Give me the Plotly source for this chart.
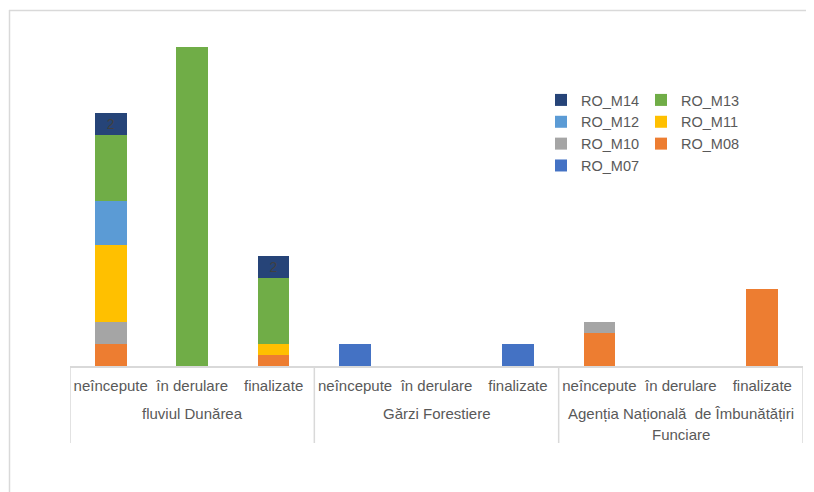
import plotly.graph_objects as go

groups = ["fluviul Dunărea", "Gărzi Forestiere", "Agenția Națională  de Îmbunătățiri", "Funciare"]
stages = ["neîncepute", "în derulare", "finalizate"] * 3

RO_M07 = [None, None, None, 2, None, 2, None, None, None]
RO_M08 = [2, None, 1, None, None, None, 3, None, 7]
RO_M10 = [2, None, None, None, None, None, 1, None, None]
RO_M11 = [7, None, 1, None, None, None, None, None, None]
RO_M12 = [4, None, None, None, None, None, None, None, None]
RO_M13 = [6, 29, 6, None, None, None, None, None, None]
RO_M14 = [2, None, 2, None, None, None, None, None, None]

series = [
    ("RO_M07", RO_M07, "#4472C4", "legend"),
    ("RO_M08", RO_M08, "#ED7D31", "legend2"),
    ("RO_M10", RO_M10, "#A5A5A5", "legend"),
    ("RO_M11", RO_M11, "#FFC000", "legend2"),
    ("RO_M12", RO_M12, "#5B9BD5", "legend"),
    ("RO_M13", RO_M13, "#70AD47", "legend2"),
    ("RO_M14", RO_M14, "#264478", "legend"),
]

OFF = 8  # page offset of the figure in the window
W, H = 806, 484
L, R, T, B = 62, 11, 28, 126
pw, ph = W - L - R, H - T - B

def px_x(sx):
    return (sx - OFF - L) / pw

def px_y(sy):
    return (H - B - (sy - OFF)) / ph

xs = list(range(len(stages)))
n_per = 3

fig = go.Figure()
for name, vals, color, lg in series:
    kw = {}
    if name == "RO_M14":
        kw = dict(text=[v if v else None for v in vals], textposition="inside",
                  insidetextanchor="middle",
                  textfont=dict(color="#404040", size=14, family="Liberation Sans, Arial, sans-serif"))
    fig.add_trace(go.Bar(name=name, x=xs, y=vals, marker=dict(color=color, line_width=0),
                         legend=lg, hoverinfo="skip", **kw))

font_axis = dict(family="Liberation Sans, Arial, sans-serif", size=15, color="#595959")
leg_font = dict(family="Liberation Sans, Arial, sans-serif", size=14.5, color="#595959")

line_col = "#d9d9d9"
shapes = [
    dict(type="line", xref="paper", yref="paper", x0=px_x(9), x1=px_x(830), y0=px_y(10.5), y1=px_y(10.5),
         line=dict(color=line_col, width=1.5)),
    dict(type="line", xref="paper", yref="paper", x0=px_x(9.5), x1=px_x(9.5), y0=px_y(10), y1=px_y(510),
         line=dict(color=line_col, width=1.5)),
]
for g in range(4):
    xv = g * n_per - 0.5
    shapes.append(dict(type="line", xref="x", yref="paper", x0=xv, x1=xv, y0=0, y1=px_y(443),
                       line=dict(color=line_col, width=1.5)))

annotations = []
group_pos = [(1, groups[0], 413), (4, groups[1], 413), (7, groups[2], 413), (7, groups[3], 435)]
for xc, txt, sy in group_pos:
    annotations.append(dict(x=xc, xref="x", y=px_y(sy), yref="paper", text=txt, showarrow=False,
                            xanchor="center", yanchor="middle", font=font_axis))

fig.update_layout(
    width=W, height=H,
    margin=dict(l=L, r=R, t=T, b=B),
    barmode="stack", bargap=0.61,
    plot_bgcolor="white", paper_bgcolor="white",
    xaxis=dict(range=[-0.5, len(stages) - 0.5], tickmode="array", tickvals=xs, ticktext=stages,
               showline=True, linecolor=line_col, linewidth=1.5,
               tickfont=font_axis, ticks="", showgrid=False, zeroline=False, ticklabelstandoff=5),
    yaxis=dict(visible=False, range=[0, 30], showgrid=False, zeroline=False),
    legend=dict(x=px_x(541), y=px_y(84), xanchor="left", yanchor="top", font=leg_font,
                traceorder="reversed", bgcolor="rgba(0,0,0,0)", itemwidth=30),
    legend2=dict(x=px_x(641), y=px_y(84), xanchor="left", yanchor="top", font=leg_font,
                 traceorder="reversed", bgcolor="rgba(0,0,0,0)", itemwidth=30),
    shapes=shapes,
    annotations=annotations,
)

fig.write_html("out.html")
